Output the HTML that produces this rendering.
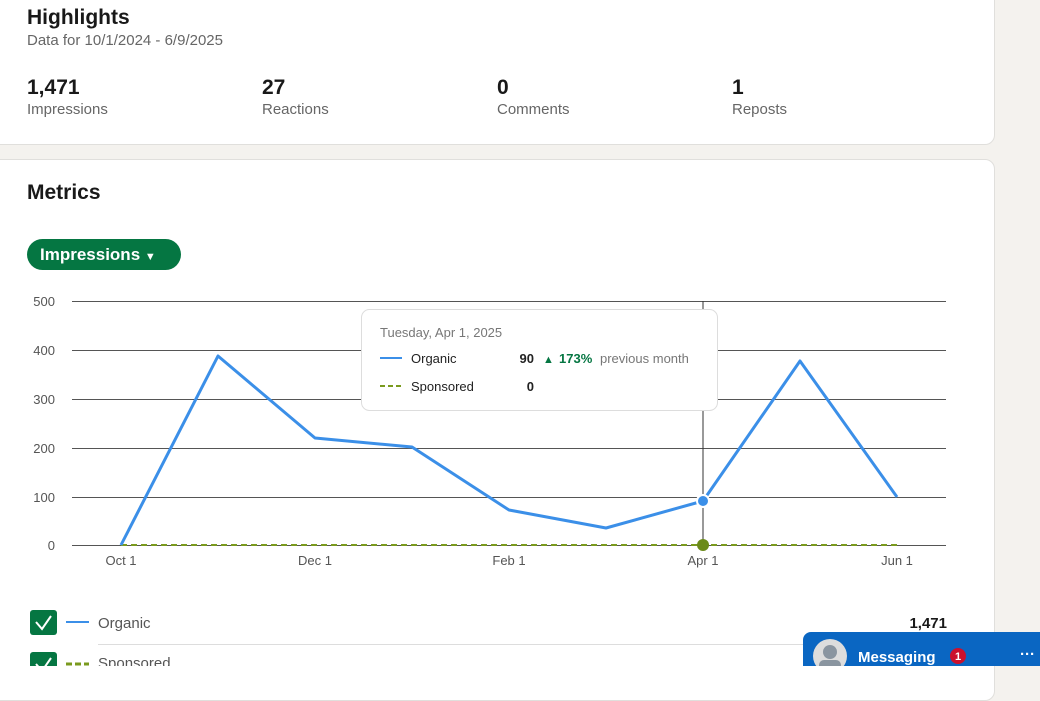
<!DOCTYPE html>
<html><head><meta charset="utf-8"><style>
html,body{margin:0;padding:0;width:1040px;height:666px;overflow:hidden;background:#f4f2ee;font-family:"Liberation Sans",sans-serif;}
.card{position:absolute;left:-10px;width:1003px;background:#fff;border:1px solid #e0dfdc;border-radius:10px;}
.t{position:absolute;white-space:nowrap;}
</style></head><body>
<div class="card" style="top:-20px;height:163px;"></div>
<div class="card" style="top:159px;height:540px;"></div>
<div class="t" style="left:27px;top:6px;font-size:21px;font-weight:bold;color:#191919;">Highlights</div>
<div class="t" style="left:27px;top:32px;font-size:15px;color:#666;">Data for 10/1/2024 - 6/9/2025</div>
<div class="t" style="left:27px;top:76px;font-size:21px;font-weight:bold;color:#191919;">1,471</div>
<div class="t" style="left:27px;top:101px;font-size:15px;color:#666;">Impressions</div>
<div class="t" style="left:262px;top:76px;font-size:21px;font-weight:bold;color:#191919;">27</div>
<div class="t" style="left:262px;top:101px;font-size:15px;color:#666;">Reactions</div>
<div class="t" style="left:497px;top:76px;font-size:21px;font-weight:bold;color:#191919;">0</div>
<div class="t" style="left:497px;top:101px;font-size:15px;color:#666;">Comments</div>
<div class="t" style="left:732px;top:76px;font-size:21px;font-weight:bold;color:#191919;">1</div>
<div class="t" style="left:732px;top:101px;font-size:15px;color:#666;">Reposts</div>
<div class="t" style="left:27px;top:181px;font-size:21px;font-weight:bold;color:#191919;">Metrics</div>
<div class="t" style="left:27px;top:239px;width:154px;height:31px;border-radius:16px;background:#057642;color:#fff;font-size:17px;font-weight:bold;line-height:31px;text-indent:13px;">Impressions <span style="font-size:11px;">▼</span></div>
<svg style="position:absolute;left:0;top:0" width="1040" height="666">
<g stroke="#555" stroke-width="1">
<line x1="72" y1="301.5" x2="946" y2="301.5"/><line x1="72" y1="350.5" x2="946" y2="350.5"/>
<line x1="72" y1="399.5" x2="946" y2="399.5"/><line x1="72" y1="448.5" x2="946" y2="448.5"/>
<line x1="72" y1="497.5" x2="946" y2="497.5"/><line x1="72" y1="545.5" x2="946" y2="545.5"/>
<line x1="703" y1="301" x2="703" y2="545" stroke="#333"/>
</g>
<g font-size="13" fill="#555" text-anchor="end">
<text x="55" y="306">500</text><text x="55" y="355">400</text><text x="55" y="404">300</text>
<text x="55" y="453">200</text><text x="55" y="502">100</text><text x="55" y="550">0</text>
</g>
<g font-size="13" fill="#555" text-anchor="middle">
<text x="121" y="565">Oct 1</text><text x="315" y="565">Dec 1</text><text x="509" y="565">Feb 1</text>
<text x="703" y="565">Apr 1</text><text x="897" y="565">Jun 1</text>
</g>
<line x1="121" y1="545" x2="897" y2="545" stroke="#7a9a1e" stroke-width="2" stroke-dasharray="6,4"/>
<polyline fill="none" stroke="#3b8fe8" stroke-width="3" stroke-linejoin="round" points="121,545 218,356 315,438 412,447 509,510 606,528 703,501 800,361 897,497"/>
<circle cx="703" cy="501" r="6" fill="#3b8fe8" stroke="#fff" stroke-width="2"/>
<circle cx="703" cy="545" r="6" fill="#6b8a1a"/>
<rect x="361.5" y="309.5" width="356" height="101" rx="8" fill="#fff" stroke="#ddd"/>
<text x="380" y="337" font-size="13" fill="#777">Tuesday, Apr 1, 2025</text>
<line x1="380" y1="358" x2="402" y2="358" stroke="#3b8fe8" stroke-width="2"/>
<text x="411" y="363" font-size="13" fill="#222">Organic</text>
<text x="534" y="363" font-size="13" fill="#222" font-weight="bold" text-anchor="end">90</text>
<text x="543" y="363" font-size="11" fill="#057642">▲</text>
<text x="559" y="363" font-size="13" fill="#057642" font-weight="bold">173%</text>
<text x="600" y="363" font-size="13" fill="#777">previous month</text>
<line x1="380" y1="386" x2="402" y2="386" stroke="#7a9a1e" stroke-width="2" stroke-dasharray="5,3"/>
<text x="411" y="391" font-size="13" fill="#222">Sponsored</text>
<text x="534" y="391" font-size="13" fill="#222" font-weight="bold" text-anchor="end">0</text>
<rect x="30" y="610" width="27" height="25" rx="3" fill="#057642"/>
<polyline points="36,622 42,629 51,616" fill="none" stroke="#fff" stroke-width="2"/>
<line x1="66" y1="622" x2="89" y2="622" stroke="#3b8fe8" stroke-width="2"/>
<text x="98" y="628" font-size="15" fill="#555">Organic</text>
<text x="947" y="628" font-size="15" fill="#191919" font-weight="bold" text-anchor="end">1,471</text>
<line x1="98" y1="644.5" x2="946" y2="644.5" stroke="#ddd"/>
<rect x="30" y="652" width="27" height="25" rx="3" fill="#057642"/>
<polyline points="36,664 42,671 51,658" fill="none" stroke="#fff" stroke-width="2"/>
<line x1="66" y1="664" x2="89" y2="664" stroke="#7a9a1e" stroke-width="3" stroke-dasharray="6,3"/>
<text x="98" y="668" font-size="15" fill="#555">Sponsored</text>
<rect x="803" y="632" width="250" height="50" rx="8" fill="#0a66c2"/>
<circle cx="830" cy="656" r="17" fill="#ddd"/>
<circle cx="830" cy="652" r="7" fill="#8a95a0"/>
<rect x="819" y="660" width="22" height="10" rx="5" fill="#8a95a0"/>
<text x="858" y="662" font-size="15" fill="#fff" font-weight="bold">Messaging</text>
<circle cx="958" cy="656" r="8" fill="#cb112d"/>
<text x="958" y="660" font-size="11" fill="#fff" text-anchor="middle" font-weight="bold">1</text>
<text x="1020" y="659" font-size="15" fill="#fff" font-weight="bold">···</text>
</svg>
</body></html>
